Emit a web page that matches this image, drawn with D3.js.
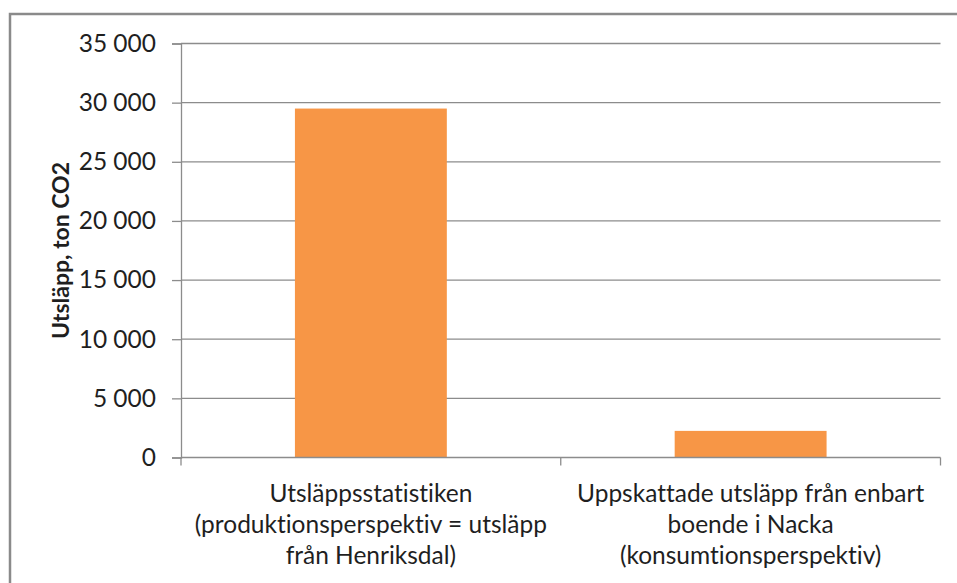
<!DOCTYPE html>
<html>
<head>
<meta charset="utf-8">
<script src="https://cdn.jsdelivr.net/npm/d3@7"></script>
<style>
  html, body { margin: 0; padding: 0; background: #fff; }
  svg { display: block; }
  text { font-family: Lato, "Open Sans", sans-serif; fill: #1f1f1f; font-variant-ligatures: none; font-feature-settings: "liga" 0, "clig" 0; }
</style>
</head>
<body>
<svg id="chart" width="957" height="583"></svg>
<script>
// Emissions, ton CO2
const categories = [
  ["Utsläppsstatistiken", "(produktionsperspektiv = utsläpp", "från Henriksdal)"],
  ["Uppskattade utsläpp från enbart", "boende i Nacka", "(konsumtionsperspektiv)"]
];
const values = [29500, 2250];
const yTicks = [0, 5000, 10000, 15000, 20000, 25000, 30000, 35000];
const yTitle = "Utsläpp, ton CO2";

const svg = d3.select("#chart");
const W = 957, H = 583;
const plot = { left: 181, right: 940.5, top: 43.5, bottom: 457.5 };

// outer frame: left and top edges
svg.append("path")
  .attr("d", `M10,${H} V14 H${W}`)
  .attr("fill", "none").attr("stroke", "#8a8a8a").attr("stroke-width", 2.5);

const x = d3.scaleBand().domain(d3.range(categories.length)).range([plot.left, plot.right]).padding(0);
const y = d3.scaleLinear().domain([0, 35000]).range([plot.bottom, plot.top]);

const fmt = v => d3.format(",")(v).replace(/,/g, " ");

// gridlines
svg.append("g").selectAll("line").data(yTicks.filter(d => d > 0)).join("line")
  .attr("x1", plot.left).attr("x2", plot.right)
  .attr("y1", d => y(d)).attr("y2", d => y(d))
  .attr("stroke", "#8c8c8c").attr("stroke-width", 1.3);

// bars: width is 40% of the band
const barW = x.bandwidth() * 0.4;
svg.append("g").selectAll("rect").data(values).join("rect")
  .attr("x", (d, i) => x(i) + (x.bandwidth() - barW) / 2)
  .attr("width", barW)
  .attr("y", d => y(d))
  .attr("height", d => y(0) - y(d))
  .attr("fill", "#f79646");

// y axis
const yAxis = d3.axisLeft(y).tickValues(yTicks).tickFormat(fmt).tickSize(9).tickPadding(16);
const gy = svg.append("g").attr("transform", `translate(${plot.left},0)`).call(yAxis);
gy.select(".domain").attr("stroke", "#8c8c8c").attr("stroke-width", 1.3);
gy.selectAll(".tick line").attr("stroke", "#8c8c8c").attr("stroke-width", 1.3);
gy.selectAll(".tick text").attr("font-size", 24.5).attr("fill", "#1f1f1f")
  .style("font-family", "Lato, sans-serif");

// x axis line with category boundary ticks
svg.append("line").attr("x1", plot.left).attr("x2", plot.right).attr("y1", plot.bottom).attr("y2", plot.bottom)
  .attr("stroke", "#8c8c8c").attr("stroke-width", 1.3);
const bounds = [plot.left, ...d3.range(categories.length).map(i => x(i) + x.bandwidth())];
svg.append("g").selectAll("line").data(bounds).join("line")
  .attr("x1", d => d).attr("x2", d => d).attr("y1", plot.bottom).attr("y2", plot.bottom + 8)
  .attr("stroke", "#8c8c8c").attr("stroke-width", 1.3);

// category labels
const lab = svg.append("g").selectAll("text").data(categories).join("text")
  .attr("x", (d, i) => x(i) + x.bandwidth() / 2)
  .attr("y", 502)
  .attr("text-anchor", "middle")
  .attr("font-size", 24.5);
lab.selectAll("tspan").data(d => d).join("tspan")
  .attr("x", function () { return this.parentNode.getAttribute("x"); })
  .attr("dy", (d, i) => i === 0 ? 0 : 31)
  .text(d => d);

// y axis title
svg.append("text")
  .attr("transform", `translate(69,${(plot.top + plot.bottom) / 2}) rotate(-90)`)
  .attr("text-anchor", "middle")
  .attr("font-size", 23).attr("font-weight", "bold")
  .attr("fill", "#000")
  .text(yTitle);
</script>
</body>
</html>
